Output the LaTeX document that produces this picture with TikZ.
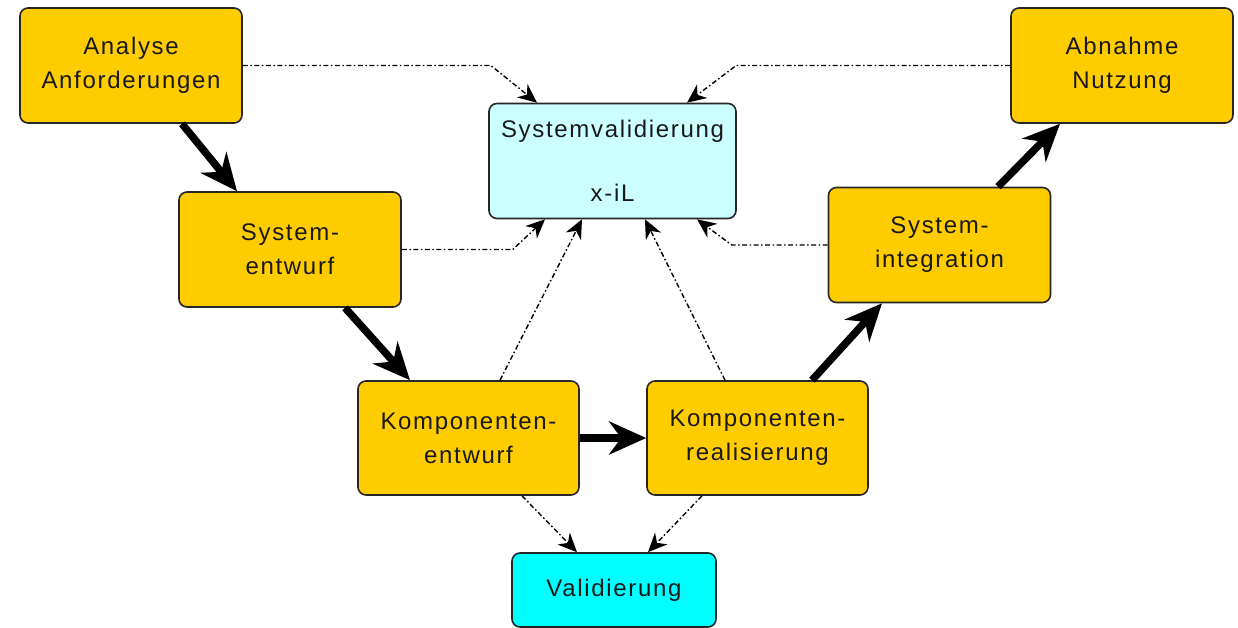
\documentclass[tikz,border=0pt]{standalone}
\usepackage{fontspec}
\setmainfont{Liberation Sans}
\usetikzlibrary{arrows.meta}
\definecolor{phase}{HTML}{FFCC00}
\definecolor{valsys}{HTML}{CCFFFF}
\definecolor{valcomp}{HTML}{00FFFF}
\definecolor{edge}{HTML}{262626}
\tikzset{
  stage/.style={rectangle, rounded corners=8pt, draw=edge, line width=1.6pt,
    fill=phase, minimum width=222pt, minimum height=115pt, inner sep=0pt,
    align=center, font=\fontsize{24}{34}\selectfont\addfontfeature{LetterSpace=7}, text=black!90},
  check/.style={stage, fill=valsys, minimum width=247pt},
  flow/.style={line width=7.5pt, -{Stealth[length=37pt, width=33pt, inset=12pt]}},
  trace/.style={line width=1.4pt, dash pattern=on 5pt off 2.5pt on 1.5pt off 2.5pt,
    -{Stealth[length=19pt, width=17pt, inset=6pt]}},
}
\begin{document}
\begin{tikzpicture}[x=1pt, y=-1pt]
\useasboundingbox (0,0) rectangle (1238,628);

% phases of the V
\node[stage] (ana) at (131,65.5) {Analyse\\Anforderungen};
\node[stage] (se)  at (290,249.5) {System-\\entwurf};
\node[stage, minimum width=221pt, minimum height=114pt] (ke) at (468.5,438) {Komponenten-\\entwurf};
\node[stage, minimum width=221pt, minimum height=114pt] (kr) at (757.5,438) {Komponenten-\\realisierung};
\node[stage] (si)  at (939.5,245) {System-\\integration};
\node[stage] (ab)  at (1122,65.5) {Abnahme\\Nutzung};

% validation boxes
\node[check, font=\fontsize{24}{32}\selectfont\addfontfeature{LetterSpace=7}] (sv) at (612.5,161) {Systemvalidierung\\\\x-iL};
\node[check, fill=valcomp, minimum width=204pt, minimum height=74pt] (va) at (614,590) {Validierung};

% main development flow
\draw[flow] ([xshift=51pt]ana.south) -- ([xshift=-53pt]se.north);
\draw[flow] ([xshift=55pt]se.south) -- ([xshift=-58.5pt]ke.north);
\draw[flow] (ke.east) -- (kr.west);
\draw[flow] ([xshift=54.5pt]kr.north) -- ([xshift=-57.5pt]si.south);
\draw[flow] ([xshift=58.5pt]si.north) -- ([xshift=-62pt]ab.south);

% validation links
\draw[trace] (ana.east) -- ++(248,0) -- ([xshift=-75.5pt]sv.north);
\draw[trace] (ab.west) -- ++(-274,0) -- ([xshift=74.5pt]sv.north);
\draw[trace] (se.east) -- ++(111,0) -- ([xshift=-67.5pt]sv.south);
\draw[trace] (si.west) -- ++(-96,0) -- ([xshift=84.5pt]sv.south);
\draw[trace] ([xshift=31.5pt]ke.north) -- ([xshift=-30.5pt]sv.south);
\draw[trace] ([xshift=-32.5pt]kr.north) -- ([xshift=32.5pt]sv.south);
\draw[trace] ([xshift=53.5pt]ke.south) -- ([xshift=-37pt]va.north);
\draw[trace] ([xshift=-55.5pt]kr.south) -- ([xshift=34pt]va.north);
\end{tikzpicture}
\end{document}
